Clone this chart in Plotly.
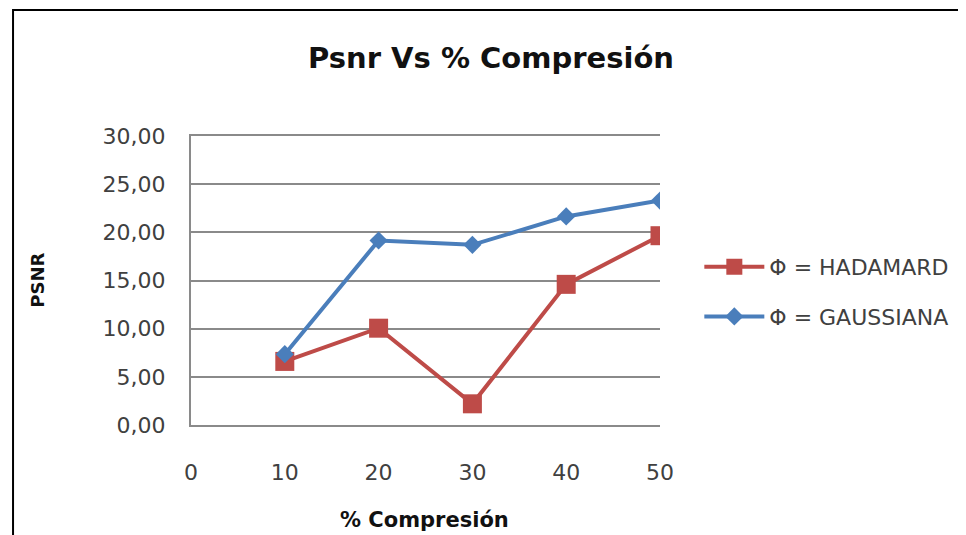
import plotly.graph_objects as go

compresion = [10, 20, 30, 40, 50]
hadamard = [6.6, 10.05, 2.2, 14.6, 19.65]
gaussiana = [7.35, 19.15, 18.7, 21.65, 23.3]
x_ticks = [0, 10, 20, 30, 40, 50]
y_ticks = [0, 5, 10, 15, 20, 25, 30]

FONT = "DejaVu Sans"
TXT = "#404040"
GRID = "#8A8A8A"

W, H = 958, 527
L, R, T, B = 183, 298, 128, 110
PW, PH = W - L - R, H - T - B

fig = go.Figure()
fig.add_trace(go.Scatter(
    x=compresion, y=hadamard, mode="lines+markers", name="Φ = HADAMARD",
    legendgroup="h",
    line=dict(color="#BE4B48", width=4),
    marker=dict(symbol="square", size=19, color="#BE4B48"),
))
fig.add_trace(go.Scatter(
    x=compresion, y=gaussiana, mode="lines+markers", name="Φ = GAUSSIANA",
    legendgroup="g",
    line=dict(color="#4A7EBB", width=4),
    marker=dict(symbol="diamond", size=14, color="#4A7EBB"),
))

fig.update_layout(
    width=W, height=H,
    margin=dict(l=L, r=R, t=T, b=B),
    paper_bgcolor="white", plot_bgcolor="white",
    separators=",.",
    font=dict(family=FONT, color=TXT, size=22),
    showlegend=True,
    legend=dict(
        x=(700 - L) / PW, y=(H - B - 238) / PH, xanchor="left", yanchor="top",
        font=dict(family=FONT, size=22, color=TXT),
        itemwidth=60, tracegroupgap=18, bgcolor="rgba(0,0,0,0)",
    ),
    title=dict(
        text="<b>Psnr Vs % Compresión</b>",
        x=483 / W, xref="container", xanchor="center",
        y=1 - 50 / H, yanchor="middle",
        font=dict(family=FONT, size=29, color="#111111"),
    ),
)
fig.update_xaxes(
    range=[0, 50], tickvals=x_ticks, ticktext=[str(v) for v in x_ticks],
    showgrid=False, zeroline=False, ticks="",
    showline=True, mirror=True, linecolor=GRID, linewidth=2,
    ticklabelstandoff=27, tickfont=dict(size=22, color=TXT, family=FONT),
)
fig.update_yaxes(
    range=[0, 30], tickvals=y_ticks, tickformat=".2f",
    showgrid=True, gridcolor=GRID, gridwidth=2,
    zeroline=False, showline=True, linecolor=GRID, linewidth=2,
    ticks="", ticklabelstandoff=19,
    tickfont=dict(size=22, color=TXT, family=FONT),
)
fig.add_annotation(
    text="<b>PSNR</b>", xref="paper", yref="paper",
    x=(26 - L) / PW, y=(H - B - 272) / PH, textangle=-90,
    xanchor="center", yanchor="middle",
    showarrow=False, font=dict(family=FONT, size=18, color="#111111"),
)
fig.add_annotation(
    text="<b>% Compresión</b>", xref="paper", yref="paper",
    x=(420 - L) / PW, y=(H - B - 512) / PH, xanchor="center", yanchor="middle",
    showarrow=False, font=dict(family=FONT, size=21, color="#111111"),
)
fig.add_shape(
    type="rect", xref="paper", yref="paper",
    x0=(2 - L) / PW, x1=(1000 - L) / PW,
    y0=(H - B - 560) / PH, y1=(H - B - 2) / PH,
    line=dict(color="black", width=2), fillcolor="rgba(0,0,0,0)", layer="below",
)

fig.write_html("out.html")
